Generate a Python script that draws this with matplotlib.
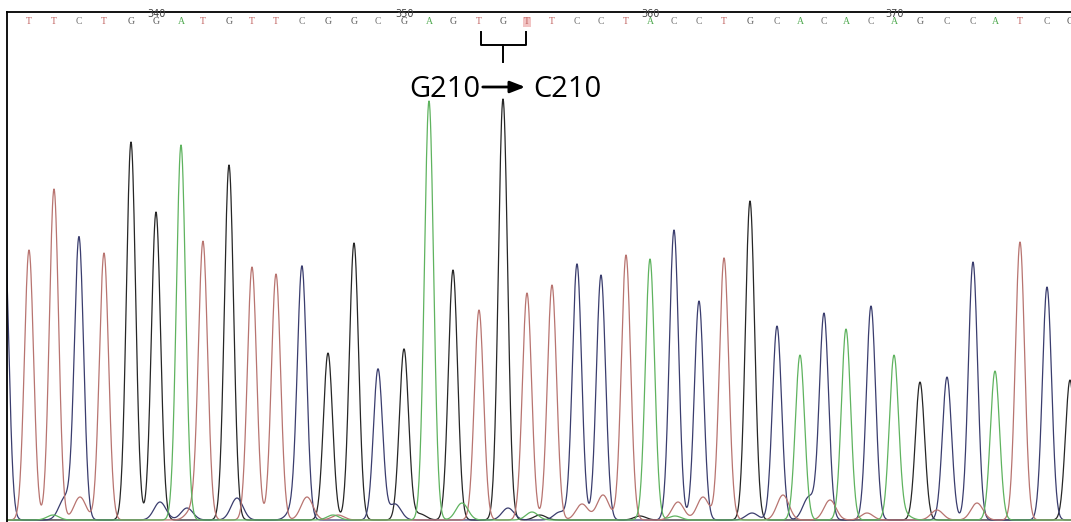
import numpy as np
import matplotlib.pyplot as plt

# base calls, scan position of each peak and peak height (signal units)
bases = list("TTCTGGATGTTCGGCGAGTGTTCCTACCTGCACACAGCCATCG")
peak_pos = [29, 54, 79, 104, 131, 156, 181, 203, 229, 252, 276, 302, 328, 354,
            378, 404, 429, 453, 479, 503, 527, 552, 577, 601, 626, 650, 674, 699,
            724, 750, 777, 800, 824, 846, 871, 894, 920, 947, 973, 995, 1020, 1047, 1070]
peak_height = [270, 331, 282, 267, 378, 308, 375, 277, 355, 253, 246, 251, 167, 277,
               151, 171, 419, 250, 210, 421, 227, 235, 256, 245, 265, 261, 290, 219,
               255, 319, 194, 165, 206, 191, 214, 164, 138, 143, 258, 149, 278, 233, 140]
first_base = 335
marked_labels = [340, 350, 360, 370]
highlight_base = 355

# small background bumps under the called peaks
noise = {
    "C": ([4, 65, 160, 187, 237, 293, 395, 508, 560, 752, 809],
          [300, 22, 18, 12, 22, 10, 16, 12, 8, 7, 23]),
    "T": ([80, 192, 307, 338, 582, 603, 678, 703, 727, 783, 830, 867, 937, 977],
          [23, 10, 23, 5, 16, 25, 18, 23, 8, 25, 20, 7, 10, 17]),
    "A": ([53, 333, 462, 532, 675, 905],
          [5, 5, 17, 8, 4, 5]),
    "G": ([420, 540, 640],
          [6, 5, 4]),
}

trace_colors = {"G": "#262626", "C": "#3a3d6e", "T": "#b87470", "A": "#5fb35f"}
letter_colors = {"G": "#5a5a5a", "C": "#777777", "T": "#c0605e", "A": "#4fa94f"}

fig = plt.figure(figsize=(10.71, 5.22), dpi=100)
ax = fig.add_axes([7 / 1071, 0, 1064 / 1071, 510 / 522])
ax.set_xlim(7, 1071)
ax.set_ylim(-2, 508)

x = np.arange(-20, 1100, 0.5)
for b in ["G", "C", "T", "A"]:
    y = np.zeros_like(x)
    for p, h, c in zip(peak_pos, peak_height, bases):
        if c == b:
            y += h * np.exp(-(x - p) ** 2 / (2 * 4.6 ** 2))
    for p, h in zip(*noise[b]):
        s = 4.6 if h > 100 else 6.0
        y += h * np.exp(-(x - p) ** 2 / (2 * s ** 2))
    ax.plot(x, y, color=trace_colors[b], lw=0.9)

# base call strip
for i, (p, c) in enumerate(zip(peak_pos, bases)):
    num = first_base + i
    kw = {}
    if num == highlight_base:
        kw["bbox"] = dict(boxstyle="square,pad=0.1", fc="#f2c4c4", ec="none")
    ax.text(p, 498, c, ha="center", va="center", fontsize=7,
            family="Liberation Serif", color=letter_colors[c], clip_on=True, **kw)
    if num in marked_labels:
        ax.text(p + 1, 506, str(num), ha="center", va="center", fontsize=7,
                color="#444444")

# bracket over the mutated codon
ax.plot([481, 481, 526, 526], [488, 475, 475, 488], color="black", lw=1.4,
        solid_joinstyle="round")
ax.plot([503, 503], [475, 458], color="black", lw=1.4)

ax.text(480, 423, "G210", ha="right", va="baseline", fontsize=21,
        family="Open Sans", color="black")
ax.text(533, 423, "C210", ha="left", va="baseline", fontsize=21,
        family="Open Sans", color="black")
ax.annotate("", xy=(528, 433), xytext=(480, 433),
            arrowprops=dict(arrowstyle="-|>,head_length=0.9,head_width=0.35",
                            color="black", lw=2))

for side in ["right", "bottom"]:
    ax.spines[side].set_visible(False)
for side in ["left", "top"]:
    ax.spines[side].set_linewidth(1.3)
ax.set_xticks([])
ax.set_yticks([])

fig.savefig("out.png", dpi=100)
